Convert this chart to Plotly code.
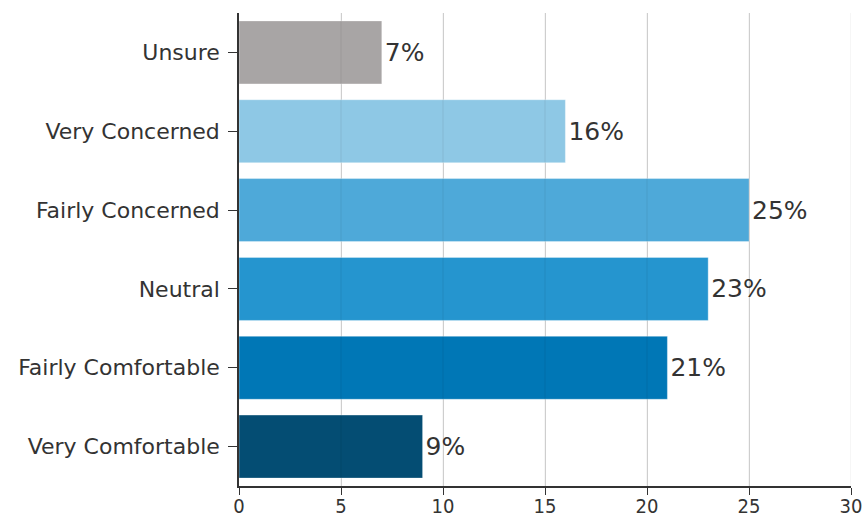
import plotly.graph_objects as go

# Survey responses, listed bottom to top
categories = ["Very Comfortable", "Fairly Comfortable", "Neutral",
              "Fairly Concerned", "Very Concerned", "Unsure"]
percentages = [9, 21, 23, 25, 16, 7]
bar_colors = ["#044d73", "#0077b6", "#2595cf", "#4ea9d9", "#8ec8e5", "#a8a5a5"]
x_ticks = [0, 5, 10, 15, 20, 25, 30]

FONT = "'DejaVu Sans', sans-serif"
NUM_FONT = "'Liberation Sans Narrow', 'DejaVu Sans Condensed', sans-serif"
TEXT = "#333333"

fig = go.Figure(go.Bar(
    x=percentages,
    y=categories,
    orientation="h",
    marker=dict(color=bar_colors, line=dict(color="rgba(255,255,255,0.35)", width=1)),
    text=[f"{v}%" for v in percentages],
    textposition="outside",
    textfont=dict(family=FONT, size=25, color=TEXT),
    cliponaxis=False,
    hoverinfo="skip",
))

# faint grid lines drawn over the bars
for t in x_ticks[1:]:
    fig.add_shape(type="line", xref="x", yref="paper", x0=t, x1=t, y0=0, y1=1,
                  line=dict(color="rgba(0,0,0,0.07)", width=1), layer="above")

fig.update_layout(
    width=864, height=518,
    margin=dict(l=239, r=13, t=13, b=32),
    paper_bgcolor="white", plot_bgcolor="white",
    bargap=0.2,
    showlegend=False,
    font=dict(family=FONT, color=TEXT),
)
fig.update_xaxes(
    range=[0, 30], tickvals=x_ticks, ticktext=[str(t) for t in x_ticks],
    showgrid=True, gridcolor="#d6d6d6", gridwidth=1,
    showline=True, linecolor="#333333", linewidth=1.5,
    ticks="outside", ticklen=7, tickcolor="#333333",
    tickfont=dict(family=NUM_FONT, size=20, color=TEXT),
    ticklabelstandoff=-6,
    zeroline=False, automargin=False,
)
fig.update_yaxes(
    categoryorder="array", categoryarray=categories,
    showline=True, linecolor="#333333", linewidth=1.5,
    ticks="outside", ticklen=9, tickcolor="#333333",
    tickfont=dict(family=FONT, size=22, color=TEXT),
    ticklabelstandoff=4,
    showgrid=False, automargin=False,
)

fig.write_html("out.html")
